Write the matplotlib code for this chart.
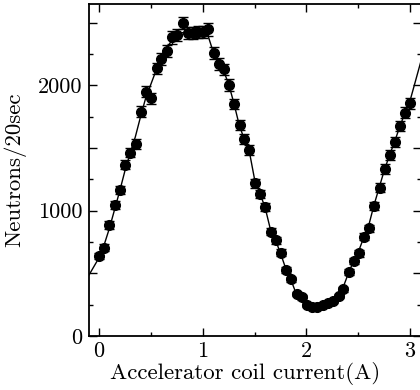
import matplotlib
matplotlib.use("Agg")
import matplotlib.pyplot as plt

plt.rcParams['font.family'] = ['cmr10', 'DejaVu Serif']
plt.rcParams['axes.formatter.use_mathtext'] = True
plt.rcParams['mathtext.fontset'] = 'cm'

# measured data (coil current in A, neutron counts per 20 s)
current = [0.00, 0.05, 0.10, 0.155, 0.205, 0.255, 0.30, 0.355, 0.405, 0.455,
           0.505, 0.555, 0.60, 0.655, 0.705, 0.755, 0.81, 0.86, 0.905, 0.955,
           1.00, 1.05, 1.105, 1.155, 1.205, 1.255, 1.305, 1.355, 1.40, 1.45,
           1.505, 1.555, 1.605, 1.655, 1.705, 1.755, 1.805, 1.855, 1.905, 1.955,
           2.005, 2.055, 2.105, 2.16, 2.21, 2.26, 2.31, 2.355, 2.41, 2.46,
           2.51, 2.555, 2.605, 2.655, 2.705, 2.755, 2.805, 2.855, 2.905, 2.955,
           3.00]
counts = [638, 705, 886, 1045, 1165, 1367, 1463, 1530, 1790, 1950,
          1897, 2136, 2208, 2277, 2383, 2402, 2500, 2421, 2421, 2428,
          2428, 2447, 2256, 2171, 2128, 2003, 1851, 1684, 1569, 1484,
          1219, 1133, 1027, 832, 766, 665, 527, 452, 335, 309,
          247, 234, 234, 250, 261, 279, 319, 372, 513, 601,
          660, 792, 859, 1040, 1184, 1333, 1444, 1551, 1676, 1782,
          1856]
errors = [25, 27, 30, 32, 34, 37, 38, 39, 42, 44,
          44, 46, 47, 48, 49, 49, 50, 49, 49, 49,
          49, 49, 47, 47, 46, 45, 43, 41, 40, 39,
          35, 34, 32, 29, 28, 26, 23, 21, 18, 18,
          16, 15, 15, 16, 16, 17, 18, 19, 23, 25,
          26, 28, 29, 32, 34, 37, 38, 39, 41, 42,
          43]

# fitted curve
fit_x = [-0.097, 0.0, 0.05, 0.10, 0.15, 0.20, 0.25, 0.30, 0.35, 0.40,
         0.45, 0.50, 0.55, 0.60, 0.65, 0.70, 0.75, 0.80, 0.85, 0.90,
         0.95, 1.00, 1.05, 1.10, 1.15, 1.20, 1.25, 1.30, 1.35, 1.40,
         1.45, 1.50, 1.55, 1.60, 1.65, 1.70, 1.75, 1.80, 1.85, 1.90,
         1.95, 2.00, 2.05, 2.10, 2.15, 2.20, 2.25, 2.30, 2.35, 2.40,
         2.45, 2.50, 2.55, 2.60, 2.65, 2.70, 2.75, 2.80, 2.85, 2.90,
         2.95, 3.00, 3.10]
fit_y = [487, 625, 730, 860, 1010, 1160, 1320, 1460, 1590, 1750,
         1900, 2010, 2120, 2210, 2290, 2360, 2400, 2420, 2430, 2430,
         2430, 2425, 2400, 2270, 2180, 2120, 2010, 1860, 1690, 1570,
         1470, 1250, 1140, 1030, 860, 770, 660, 540, 450, 340,
         290, 245, 225, 220, 232, 252, 282, 320, 380, 490,
         590, 670, 780, 880, 1040, 1180, 1320, 1440, 1550, 1670,
         1780, 1880, 2180]

x_major = [0, 1, 2, 3]
x_minor = [0.5, 1.5, 2.5]
y_major = [0, 500, 1000, 1500, 2000, 2500]
y_labels = ['0', '', '1000', '', '2000', '']
y_minor = [250, 750, 1250, 1750, 2250]

fig = plt.figure(figsize=(4.2, 3.9), dpi=100)
ax = fig.add_axes([89/420, 54/390, 332/420, 332/390])

ax.plot(fit_x, fit_y, color='black', lw=1.0, zorder=2)
ax.errorbar(current, counts, yerr=errors, fmt='o', color='black', ms=7,
            ecolor='black', elinewidth=1.0, capsize=3.5, capthick=1.0, zorder=3)

ax.set_xlim(-0.097, 3.105)
ax.set_ylim(0, 2650)
ax.set_xticks(x_major)
ax.set_xticklabels([str(v) for v in x_major])
ax.set_xticks(x_minor, minor=True)
ax.set_yticks(y_major)
ax.set_yticklabels(y_labels)
ax.set_yticks(y_minor, minor=True)

ax.tick_params(which='both', direction='in', top=True, right=True,
               labelsize=16, width=1.0, color='black')
ax.tick_params(which='major', length=6)
ax.tick_params(which='minor', length=3)
ax.tick_params(axis='x', pad=4)
ax.tick_params(axis='y', pad=5)
for s in ax.spines.values():
    s.set_linewidth(1.3)

ax.set_xlabel('Accelerator coil current(A)', fontsize=16.5)
ax.set_ylabel('Neutrons/20sec', fontsize=16.5)
ax.xaxis.set_label_coords(0.47, -0.078)
ax.yaxis.set_label_coords(-0.19, 0.5)

fig.savefig('out.png', dpi=100)
